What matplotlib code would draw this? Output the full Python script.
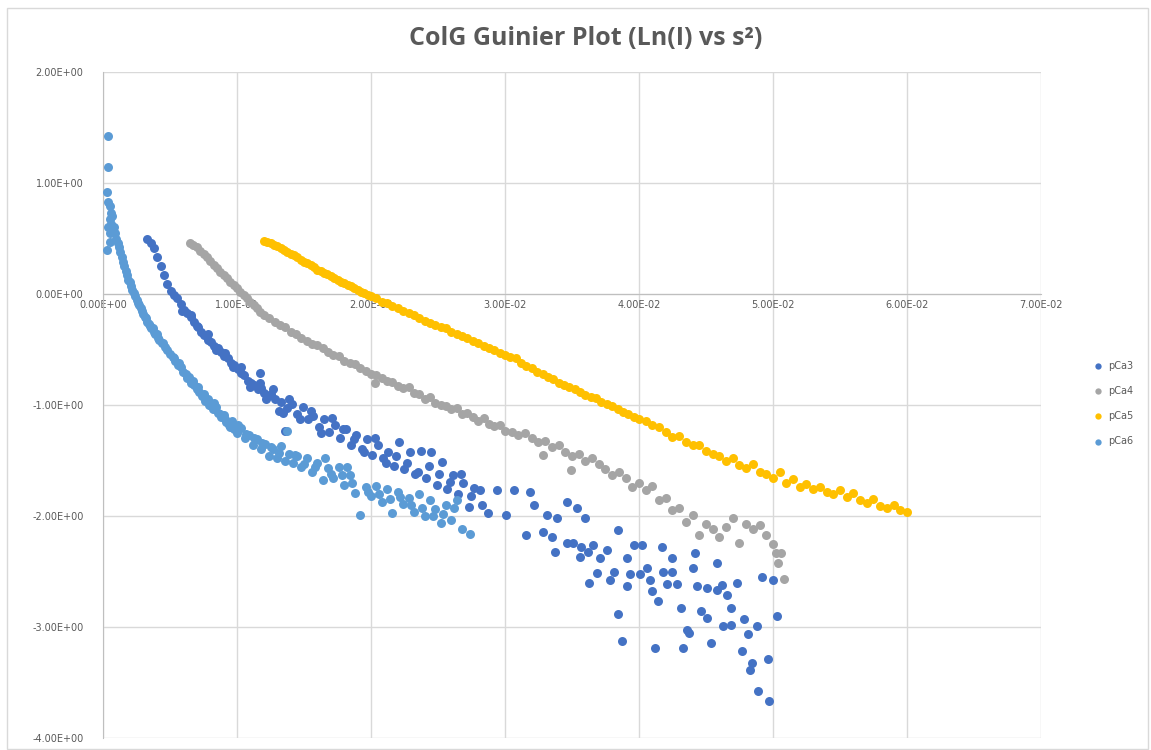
import matplotlib.pyplot as plt
from matplotlib.patches import Rectangle

# ---- data: s^2 (x) vs Ln(I) (y) ----
pca3_x = [0.00330, 0.00355, 0.00380, 0.00405, 0.00430, 0.00455, 0.00480, 0.00505, 0.00530, 0.00555,
          0.00580, 0.00605, 0.00630, 0.00655, 0.00680, 0.00705, 0.00730, 0.00755, 0.00780, 0.00805,
          0.00830, 0.00855, 0.00880, 0.00905, 0.00930, 0.00955, 0.00980, 0.01005, 0.01030, 0.01055,
          0.01080, 0.01105, 0.01130, 0.01155, 0.01180, 0.01205, 0.01230, 0.01255, 0.01280, 0.01170,
          0.01340, 0.01360,
          0.0133, 0.0137, 0.0141, 0.0145, 0.0149, 0.0153, 0.0157, 0.0161, 0.0165, 0.0169,
          0.0173, 0.0177, 0.0181, 0.0185, 0.0189, 0.0193, 0.0197, 0.0201, 0.0205, 0.0209,
          0.0213, 0.0217, 0.0221, 0.0225, 0.0229, 0.0233, 0.0237, 0.0241, 0.0245, 0.0249,
          0.0253, 0.0257, 0.0261, 0.0265, 0.0269, 0.0273, 0.0277,
          0.0059, 0.0066, 0.0071, 0.0078, 0.0084, 0.0091, 0.0097, 0.0103, 0.0110, 0.0117,
          0.0122, 0.0127, 0.0131, 0.0139, 0.0147, 0.0155, 0.0163, 0.0171, 0.0179, 0.0187,
          0.0195, 0.0203, 0.0211, 0.0219, 0.0227, 0.0235, 0.0243, 0.0251, 0.0259, 0.0267,
          0.0275, 0.0283,
          0.0281, 0.0294, 0.0307, 0.0319, 0.0287, 0.0301, 0.0322, 0.0331, 0.0339, 0.0346,
          0.0354, 0.0360, 0.0316, 0.0328, 0.0335, 0.0337, 0.0346, 0.0351, 0.0357, 0.0366,
          0.0356, 0.0362, 0.0371, 0.0376, 0.0384, 0.0396, 0.0402, 0.0391, 0.0417, 0.0425,
          0.0442, 0.0458, 0.0369, 0.0381, 0.0363, 0.0378, 0.0393, 0.0401, 0.0406, 0.0408,
          0.0391, 0.0418, 0.0425, 0.0421, 0.0428, 0.0440, 0.0443, 0.0451, 0.0458, 0.0462,
          0.0473, 0.0492, 0.0500, 0.0410, 0.0414, 0.0431, 0.0384, 0.0446, 0.0451, 0.0466,
          0.0469, 0.0478, 0.0463, 0.0469, 0.0436, 0.0437, 0.0488, 0.0503, 0.0481, 0.0387,
          0.0412, 0.0433, 0.0454, 0.0477, 0.0484, 0.0483, 0.0496, 0.0489, 0.0497]
pca3_y = [0.50, 0.46, 0.41, 0.33, 0.25, 0.17, 0.09, 0.03, -0.01, -0.04,
          -0.09, -0.14, -0.17, -0.21, -0.25, -0.29, -0.34, -0.37, -0.41, -0.43,
          -0.47, -0.49, -0.52, -0.56, -0.58, -0.62, -0.64, -0.68, -0.71, -0.73,
          -0.78, -0.80, -0.82, -0.86, -0.85, -0.89, -0.92, -0.90, -0.95, -0.71,
          -1.07, -1.23,
          -0.97, -1.03, -0.99, -1.08, -1.02, -1.13, -1.10, -1.20, -1.13, -1.24,
          -1.18, -1.30, -1.22, -1.36, -1.27, -1.40, -1.31, -1.45, -1.36, -1.48,
          -1.42, -1.55, -1.33, -1.58, -1.42, -1.62, -1.41, -1.66, -1.42, -1.72,
          -1.51, -1.76, -1.63, -1.80, -1.70, -1.92, -1.75,
          -0.15, -0.19, -0.30, -0.36, -0.50, -0.53, -0.66, -0.66, -0.84, -0.80,
          -0.95, -0.86, -1.05, -0.95, -1.13, -1.05, -1.25, -1.12, -1.22, -1.31,
          -1.42, -1.30, -1.52, -1.46, -1.52, -1.60, -1.55, -1.62, -1.69, -1.62,
          -1.82, -1.90,
          -1.77, -1.77, -1.77, -1.78, -1.97, -1.99, -1.90, -1.99, -2.02, -1.87,
          -1.93, -2.02, -2.17, -2.14, -2.19, -2.32, -2.24, -2.24, -2.28, -2.26,
          -2.37, -2.32, -2.38, -2.31, -2.13, -2.26, -2.26, -2.38, -2.28, -2.38,
          -2.33, -2.42, -2.51, -2.50, -2.60, -2.58, -2.52, -2.52, -2.47, -2.58,
          -2.63, -2.50, -2.50, -2.61, -2.61, -2.47, -2.63, -2.65, -2.67, -2.62,
          -2.60, -2.55, -2.58, -2.68, -2.77, -2.83, -2.88, -2.86, -2.92, -2.71,
          -2.83, -2.93, -2.99, -2.98, -3.03, -3.05, -2.99, -2.90, -3.06, -3.13,
          -3.19, -3.19, -3.14, -3.22, -3.32, -3.39, -3.29, -3.58, -3.67]

pca4_x = [0.00650, 0.00675, 0.00700, 0.00725, 0.00750, 0.00775, 0.00800, 0.00825, 0.00850, 0.00875,
          0.00900, 0.00925, 0.00950, 0.00975, 0.01000, 0.01025, 0.01050, 0.01075, 0.01100, 0.01125,
          0.01150, 0.01175, 0.01200,
          0.0124, 0.0128, 0.0132, 0.0136, 0.0140, 0.0144, 0.0148, 0.0152, 0.0156, 0.0160,
          0.0164, 0.0168, 0.0172, 0.0176, 0.0180, 0.0184, 0.0188, 0.0192, 0.0196, 0.0200,
          0.0204, 0.0208, 0.0212, 0.0216, 0.0220, 0.0224, 0.0228, 0.0232, 0.0236, 0.0240,
          0.0244, 0.0248, 0.0252, 0.0256, 0.0260, 0.0264, 0.0268, 0.0272, 0.0276, 0.0280,
          0.0284, 0.0288, 0.0292, 0.0296, 0.0300,
          0.0305, 0.0310, 0.0315, 0.0320, 0.0325, 0.0330, 0.0335, 0.0340, 0.0345, 0.0350,
          0.0355, 0.0360, 0.0365, 0.0370, 0.0375, 0.0380, 0.0385, 0.0390, 0.0395, 0.0400,
          0.0405, 0.0410, 0.0415, 0.0420, 0.0425, 0.0430, 0.0435, 0.0440, 0.0445, 0.0450,
          0.0455, 0.0460, 0.0465, 0.0470, 0.0475, 0.0480, 0.0485, 0.0490, 0.0495, 0.0500,
          0.0502, 0.0504, 0.0506, 0.0508, 0.0328, 0.0349, 0.0203]
pca4_y = [0.46, 0.44, 0.42, 0.39, 0.36, 0.33, 0.30, 0.26, 0.23, 0.20,
          0.17, 0.14, 0.11, 0.08, 0.05, 0.02, -0.01, -0.04, -0.07, -0.10,
          -0.13, -0.16, -0.19,
          -0.22, -0.25, -0.28, -0.30, -0.34, -0.36, -0.40, -0.42, -0.45, -0.46,
          -0.49, -0.52, -0.55, -0.56, -0.60, -0.62, -0.63, -0.67, -0.69, -0.72,
          -0.73, -0.76, -0.78, -0.79, -0.83, -0.85, -0.84, -0.89, -0.90, -0.95,
          -0.93, -0.98, -1.00, -1.01, -1.04, -1.03, -1.08, -1.07, -1.11, -1.14,
          -1.12, -1.17, -1.19, -1.18, -1.23,
          -1.24, -1.27, -1.25, -1.30, -1.33, -1.32, -1.38, -1.36, -1.42, -1.46,
          -1.44, -1.50, -1.48, -1.53, -1.58, -1.63, -1.60, -1.66, -1.74, -1.70,
          -1.77, -1.73, -1.86, -1.84, -1.95, -1.93, -2.05, -1.99, -2.17, -2.07,
          -2.12, -2.19, -2.10, -2.02, -2.24, -2.07, -2.12, -2.08, -2.17, -2.25,
          -2.33, -2.42, -2.33, -2.57, -1.45, -1.59, -0.80]

pca5_x = [0.01200, 0.01225, 0.01250, 0.01275, 0.01300, 0.01325, 0.01350, 0.01375, 0.01400, 0.01425,
          0.01450, 0.01475, 0.01500, 0.01525, 0.01550, 0.01575, 0.01600, 0.01625, 0.01650, 0.01675,
          0.01700, 0.01725, 0.01750, 0.01775, 0.01800, 0.01825, 0.01850, 0.01875, 0.01900, 0.01925,
          0.01950, 0.01975, 0.02000,
          0.0204, 0.0208, 0.0212, 0.0216, 0.0220, 0.0224, 0.0228, 0.0232, 0.0236, 0.0240,
          0.0244, 0.0248, 0.0252, 0.0256, 0.0260, 0.0264, 0.0268, 0.0272, 0.0276, 0.0280,
          0.0284, 0.0288, 0.0292, 0.0296, 0.0300, 0.0304, 0.0308, 0.0312, 0.0316, 0.0320,
          0.0324, 0.0328, 0.0332, 0.0336, 0.0340, 0.0344, 0.0348, 0.0352, 0.0356, 0.0360,
          0.0364, 0.0368, 0.0372, 0.0376, 0.0380, 0.0384, 0.0388, 0.0392, 0.0396, 0.0400,
          0.0405, 0.0410, 0.0415, 0.0420, 0.0425, 0.0430, 0.0435, 0.0440, 0.0445, 0.0450,
          0.0455, 0.0460, 0.0465, 0.0470, 0.0475, 0.0480, 0.0485, 0.0490, 0.0495, 0.0500,
          0.0505, 0.0510, 0.0515, 0.0520, 0.0525, 0.0530, 0.0535, 0.0540, 0.0545, 0.0550,
          0.0555, 0.0560, 0.0565, 0.0570, 0.0575, 0.0580, 0.0585, 0.0590, 0.0595, 0.0600]
pca5_y = [0.48, 0.47, 0.46, 0.44, 0.43, 0.41, 0.40, 0.38, 0.36, 0.35,
          0.33, 0.31, 0.29, 0.28, 0.26, 0.24, 0.22, 0.21, 0.19, 0.18,
          0.16, 0.14, 0.13, 0.11, 0.10, 0.08, 0.07, 0.05, 0.04, 0.02,
          0.01, -0.01, -0.02,
          -0.04, -0.07, -0.08, -0.11, -0.13, -0.15, -0.17, -0.19, -0.22, -0.24,
          -0.26, -0.28, -0.30, -0.31, -0.34, -0.36, -0.38, -0.40, -0.42, -0.44,
          -0.47, -0.49, -0.50, -0.53, -0.55, -0.57, -0.58, -0.62, -0.65, -0.67,
          -0.70, -0.72, -0.75, -0.77, -0.80, -0.82, -0.84, -0.86, -0.88, -0.91,
          -0.93, -0.94, -0.97, -0.99, -1.01, -1.04, -1.06, -1.08, -1.11, -1.13,
          -1.14, -1.18, -1.20, -1.24, -1.29, -1.28, -1.33, -1.36, -1.36, -1.41,
          -1.44, -1.46, -1.50, -1.48, -1.54, -1.57, -1.53, -1.60, -1.62, -1.66,
          -1.60, -1.70, -1.67, -1.74, -1.71, -1.76, -1.74, -1.78, -1.80, -1.77,
          -1.83, -1.79, -1.86, -1.88, -1.85, -1.91, -1.93, -1.90, -1.95, -1.96]

pca6_x = [0.0004, 0.0004, 0.0003, 0.0004, 0.0005, 0.0006, 0.0005, 0.0007, 0.0004, 0.0006,
          0.0008, 0.0005, 0.0003, 0.0005, 0.0007, 0.0009, 0.0010, 0.0011, 0.0012, 0.0013,
          0.0014, 0.0015, 0.0016, 0.0017, 0.0018, 0.0019, 0.0020, 0.0021, 0.0022, 0.0023,
          0.0024, 0.0025, 0.0026, 0.0027, 0.0028, 0.0029, 0.0030, 0.0031, 0.0032, 0.0033,
          0.0034, 0.0035, 0.0036, 0.0037, 0.0038, 0.0039, 0.0040, 0.0042, 0.0044, 0.0046,
          0.0048, 0.0050, 0.0052, 0.0054, 0.0056, 0.0058, 0.0060, 0.0062, 0.0064, 0.0066,
          0.0068, 0.0070, 0.0072, 0.0074, 0.0076, 0.0078, 0.0080, 0.0082, 0.0084, 0.0086,
          0.0088, 0.0090, 0.0092, 0.0094, 0.0096, 0.0098, 0.0100, 0.0103, 0.0106, 0.0109,
          0.0112, 0.0115, 0.0118, 0.0121, 0.0124, 0.0127, 0.0130, 0.0133, 0.0136, 0.0139,
          0.0142, 0.0145, 0.0148, 0.0152, 0.0156, 0.0160, 0.0164, 0.0168, 0.0172, 0.0176,
          0.0180, 0.0184, 0.0188, 0.0192, 0.0196, 0.0200, 0.0204, 0.0208, 0.0212, 0.0216,
          0.0220, 0.0224, 0.0228, 0.0232, 0.0236, 0.0240, 0.0244, 0.0248, 0.0252, 0.0256,
          0.0260, 0.0264, 0.0268, 0.0274, 0.0137, 0.0182, 0.0166,
          0.0041, 0.0045, 0.0053, 0.0057, 0.0063, 0.0067, 0.0071, 0.0075, 0.0079, 0.0083,
          0.0087, 0.0091, 0.0095, 0.0101, 0.0107, 0.0113, 0.0119, 0.0125, 0.0131, 0.0143,
          0.0150, 0.0158, 0.0170, 0.0178, 0.0186, 0.0198, 0.0206, 0.0214, 0.0222, 0.0230,
          0.0238, 0.0246, 0.0254, 0.0262]
pca6_y = [1.42, 1.14, 0.92, 0.83, 0.79, 0.73, 0.68, 0.70, 0.60, 0.63,
          0.60, 0.55, 0.40, 0.47, 0.56, 0.55, 0.50, 0.46, 0.42, 0.38,
          0.33, 0.29, 0.25, 0.21, 0.17, 0.13, 0.11, 0.07, 0.04, 0.01,
          -0.02, -0.05, -0.08, -0.10, -0.13, -0.15, -0.18, -0.21, -0.22, -0.25,
          -0.27, -0.29, -0.31, -0.31, -0.34, -0.36, -0.36, -0.41, -0.44, -0.48,
          -0.50, -0.54, -0.57, -0.60, -0.64, -0.66, -0.70, -0.72, -0.75, -0.80,
          -0.82, -0.86, -0.88, -0.92, -0.96, -0.95, -1.00, -1.04, -1.02, -1.07,
          -1.11, -1.09, -1.15, -1.18, -1.14, -1.22, -1.25, -1.21, -1.30, -1.27,
          -1.36, -1.31, -1.40, -1.35, -1.46, -1.40, -1.48, -1.37, -1.50, -1.44,
          -1.52, -1.46, -1.56, -1.48, -1.60, -1.52, -1.68, -1.57, -1.66, -1.56,
          -1.72, -1.63, -1.79, -1.99, -1.74, -1.82, -1.73, -1.87, -1.76, -1.97,
          -1.78, -1.89, -1.84, -1.96, -1.80, -2.00, -1.86, -1.94, -2.06, -1.90,
          -2.04, -1.86, -2.12, -2.16, -1.23, -1.56, -1.48,
          -0.40, -0.44, -0.58, -0.62, -0.76, -0.78, -0.84, -0.90, -1.00, -0.98,
          -1.08, -1.13, -1.20, -1.18, -1.26, -1.30, -1.34, -1.38, -1.43, -1.45,
          -1.53, -1.56, -1.62, -1.63, -1.70, -1.78, -1.80, -1.85, -1.83, -1.90,
          -1.93, -2.00, -1.98, -1.93]

labels = ["pCa3", "pCa4", "pCa5", "pCa6"]
colors = ["#4472C4", "#A5A5A5", "#FFC000", "#5B9BD5"]

x_ticks = [0.00, 0.01, 0.02, 0.03, 0.04, 0.05, 0.06, 0.07]
y_ticks = [-4.0, -3.0, -2.0, -1.0, 0.0, 1.0, 2.0]

txt = "#595959"
grid = "#D9D9D9"

fig = plt.figure(figsize=(11.51, 7.5), dpi=100)
fig.patches.append(Rectangle((0.006, 0.002), 0.991, 0.988, transform=fig.transFigure,
                             fill=False, edgecolor="#D9D9D9", linewidth=1.0))
ax = fig.add_axes([0.0895, 0.016, 0.8149, 0.888])

series = [(pca3_x, pca3_y), (pca4_x, pca4_y), (pca5_x, pca5_y), (pca6_x, pca6_y)]
for (xs, ys), lab, col in zip(series, labels, colors):
    ax.scatter(xs, ys, s=42, color=col, linewidths=0, label=lab, zorder=3)

ax.set_xlim(0, 0.07)
ax.set_ylim(-4, 2)
ax.set_xticks(x_ticks)
ax.set_yticks(y_ticks)
ax.set_xticklabels(["%.2E" % v for v in x_ticks])
ax.set_yticklabels(["%.2E" % v for v in y_ticks])
ax.tick_params(length=0, labelsize=7, labelcolor=txt)
ax.tick_params(axis="x", pad=4)
ax.tick_params(axis="y", pad=14)
ax.grid(True, color=grid, linewidth=1.0, zorder=0)
ax.set_axisbelow(True)

ax.spines["bottom"].set_position(("data", 0))
ax.spines["bottom"].set_color("#BFBFBF")
ax.spines["left"].set_color("#BFBFBF")
ax.spines["top"].set_visible(False)
ax.spines["right"].set_visible(False)

fig.text(0.509, 0.949, "ColG Guinier Plot (Ln(I) vs s²)", ha="center", va="center",
         fontsize=18, fontweight="bold", color=txt, family="Open Sans")

leg = fig.legend(loc="center left", bbox_to_anchor=(0.942, 0.462), frameon=False,
                 fontsize=7, labelcolor=txt, handletextpad=0.1, labelspacing=1.55,
                 markerscale=0.7, borderaxespad=0)

plt.savefig("out.png", dpi=100)
